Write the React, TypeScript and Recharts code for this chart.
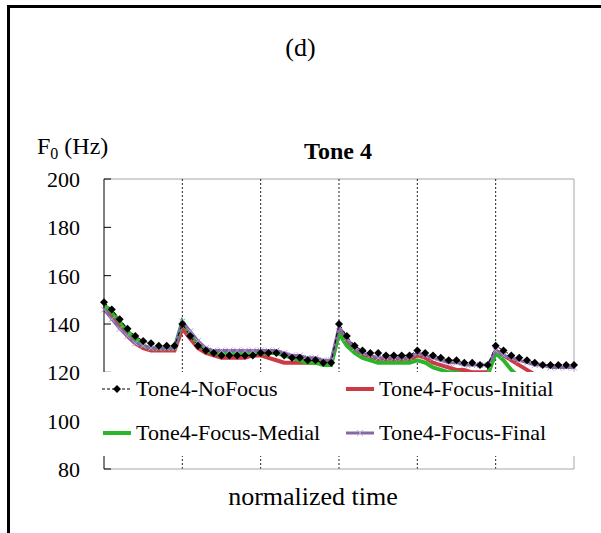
import React from 'react'
import { LineChart, Line, XAxis, YAxis, ReferenceLine } from 'recharts'

// normalized time index: 6 syllable slots of 10 samples each
const timePoints = [
  0, 1, 2, 3, 4, 5, 6, 7, 8, 9,
  10, 11, 12, 13, 14, 15, 16, 17, 18, 19,
  20, 21, 22, 23, 24, 25, 26, 27, 28, 29,
  30, 31, 32, 33, 34, 35, 36, 37, 38, 39,
  40, 41, 42, 43, 44, 45, 46, 47, 48, 49,
  50, 51, 52, 53, 54, 55, 56, 57, 58, 59, 60,
]
const syllableBounds = [10, 20, 30, 40, 50]
const yTicks = [80, 100, 120, 140, 160, 180, 200]

const noFocus = [
  149, 146, 142, 138, 135, 133, 132, 131, 131, 131,
  140, 135, 131, 129, 128, 127, 127, 127, 127, 127,
  128, 128, 128, 127, 126, 126, 125, 125, 124, 124,
  140, 135, 131, 129, 128, 128, 127, 127, 127, 127,
  129, 128, 127, 126, 125, 125, 124, 124, 123, 123,
  131, 129, 127, 126, 125, 124, 123, 123, 123, 123, 123,
]
const focusInitial = [
  147, 143, 139, 135, 132, 130, 129, 129, 129, 129,
  138, 134, 130, 128, 127, 126, 126, 126, 126, 127,
  127, 126, 125, 124, 124, 124, 124, 124, 124, 124,
  137, 132, 129, 127, 126, 125, 125, 125, 125, 125,
  127, 126, 124, 123, 122, 121, 121, 120, 120, 120,
  129, 127, 125, 123, 121, 119, 117, 116, 116, 116, 116,
]
const focusMedial = [
  148, 145, 141, 137, 134, 131, 130, 130, 130, 130,
  141, 136, 132, 129, 128, 128, 128, 128, 128, 128,
  128, 128, 128, 127, 126, 125, 124, 124, 123, 123,
  136, 131, 128, 126, 125, 124, 124, 124, 124, 124,
  125, 124, 122, 121, 120, 120, 119, 119, 119, 119,
  128, 125, 121, 118, 116, 115, 114, 114, 114, 114, 114,
]
const focusFinal = [
  146, 142, 138, 135, 132, 131, 130, 130, 130, 130,
  141, 137, 133, 130, 129, 129, 129, 129, 129, 129,
  129, 129, 129, 128, 127, 127, 126, 126, 125, 125,
  139, 134, 130, 128, 127, 126, 126, 126, 126, 126,
  128, 127, 126, 125, 124, 124, 123, 123, 123, 123,
  129, 127, 126, 125, 124, 123, 123, 122, 122, 122, 122,
]

const data = timePoints.map((t, i) => ({
  t,
  noFocus: noFocus[i],
  initial: focusInitial[i],
  medial: focusMedial[i],
  final: focusFinal[i],
}))

const serif = "'Liberation Serif', 'DejaVu Serif', serif"
const RED = '#cc3a46'
const GREEN = '#2bb52b'
const PURPLE = '#8468a8'
const CROSS = '#b3a3cc'

const Diamond = (props: any) => {
  const { cx, cy } = props
  if (cx == null || cy == null) return null
  return <polygon points={`${cx},${cy - 4} ${cx + 4},${cy} ${cx},${cy + 4} ${cx - 4},${cy}`} fill="#000" />
}

const Cross = (props: any) => {
  const { cx, cy } = props
  if (cx == null || cy == null) return null
  return (
    <g stroke={CROSS} strokeWidth={1}>
      <line x1={cx - 3} y1={cy - 3} x2={cx + 3} y2={cy + 3} />
      <line x1={cx - 3} y1={cy + 3} x2={cx + 3} y2={cy - 3} />
    </g>
  )
}

const YTick = (props: any) => {
  const { x, y, payload } = props
  return (
    <g>
      <line x1={x} x2={x + 7} y1={y} y2={y} stroke="#000" />
      <text x={x - 24} y={y + 8} textAnchor="end" fontFamily={serif} fontSize={22} fill="#000">
        {payload.value}
      </text>
    </g>
  )
}

const legendItems = [
  { label: 'Tone4-NoFocus', kind: 'diamond', color: '#000', left: 7, top: 17 },
  { label: 'Tone4-Focus-Initial', kind: 'solid', color: RED, left: 250, top: 17 },
  { label: 'Tone4-Focus-Medial', kind: 'solid', color: GREEN, left: 7, top: 61 },
  { label: 'Tone4-Focus-Final', kind: 'cross', color: PURPLE, left: 250, top: 61 },
]

const LegendBox = () => (
  <div style={{ position: 'absolute', left: 95, top: 372, width: 485, height: 84, background: '#fff' }}>
    {legendItems.map((it) => (
      <div
        key={it.label}
        style={{
          position: 'absolute',
          left: it.left,
          top: it.top - 13,
          height: 26,
          display: 'flex',
          alignItems: 'center',
          fontFamily: serif,
          fontSize: 22,
          color: '#000',
          whiteSpace: 'nowrap',
        }}
      >
        <svg width={30} height={12} style={{ marginRight: 4 }}>
          {it.kind === 'diamond' && (
            <g>
              <line x1={0} x2={30} y1={6} y2={6} stroke="#000" strokeDasharray="3 2" />
              <polygon points="15,2 19,6 15,10 11,6" fill="#000" />
            </g>
          )}
          {it.kind === 'solid' && <line x1={1} x2={29} y1={6} y2={6} stroke={it.color} strokeWidth={4} />}
          {it.kind === 'cross' && (
            <g>
              <line x1={1} x2={29} y1={6} y2={6} stroke={it.color} strokeWidth={3} />
              <line x1={12} y1={3} x2={18} y2={9} stroke={CROSS} />
              <line x1={12} y1={9} x2={18} y2={3} stroke={CROSS} />
            </g>
          )}
        </svg>
        {it.label}
      </div>
    ))}
  </div>
)

export default function App() {
  return (
    <div style={{ position: 'absolute', left: 0, top: 0, width: 601, height: 533, background: '#fff' }}>
      <div
        style={{
          position: 'absolute',
          left: 7,
          top: 5,
          width: 594,
          height: 528,
          borderTop: '3px solid #000',
          borderLeft: '3px solid #000',
          boxSizing: 'border-box',
        }}
      />
      <div style={{ position: 'absolute', left: 0, top: 0 }}>
        <LineChart width={601} height={533} data={data} margin={{ top: 179, right: 27, bottom: 34, left: 44 }}>
          <XAxis
            dataKey="t"
            type="number"
            domain={[0, 60]}
            ticks={[0, 10, 20, 30, 40, 50, 60]}
            tick={false}
            tickLine={false}
            axisLine={{ stroke: '#a6a6a6' }}
            height={30}
          />
          <YAxis
            domain={[80, 200]}
            ticks={yTicks}
            interval={0}
            width={60}
            tickSize={0}
            tickMargin={0}
            tick={<YTick />}
            axisLine={{ stroke: '#000' }}
            tickLine={false}
          />
          <ReferenceLine y={200} stroke="#a6a6a6" />
          <ReferenceLine x={60} stroke="#a6a6a6" />
          {syllableBounds.map((b) => (
            <ReferenceLine key={b} x={b} stroke="#222" strokeDasharray="2 2" />
          ))}
          <Line dataKey="initial" stroke={RED} strokeWidth={4} dot={false} isAnimationActive={false} />
          <Line dataKey="medial" stroke={GREEN} strokeWidth={4} dot={false} isAnimationActive={false} />
          <Line dataKey="final" stroke={PURPLE} strokeWidth={3} dot={<Cross />} isAnimationActive={false} />
          <Line
            dataKey="noFocus"
            stroke="#000"
            strokeWidth={1}
            strokeDasharray="4 3"
            dot={<Diamond />}
            isAnimationActive={false}
          />
        </LineChart>
      </div>
      <LegendBox />
      <div style={{ position: 'absolute', left: 0, top: 32, width: 601, textAlign: 'center', fontFamily: serif, fontSize: 26, lineHeight: '32px' }}>
        (d)
      </div>
      <div style={{ position: 'absolute', left: 37, top: 132, fontFamily: serif, fontSize: 24, lineHeight: '28px' }}>
        F<sub style={{ fontSize: 16, verticalAlign: -5 }}>0</sub> (Hz)
      </div>
      <div style={{ position: 'absolute', left: 238, top: 136, width: 200, textAlign: 'center', fontFamily: serif, fontSize: 24, fontWeight: 'bold', lineHeight: '30px' }}>
        Tone 4
      </div>
      <div style={{ position: 'absolute', left: 163, top: 481, width: 300, textAlign: 'center', fontFamily: serif, fontSize: 26, lineHeight: '32px' }}>
        normalized time
      </div>
    </div>
  )
}
